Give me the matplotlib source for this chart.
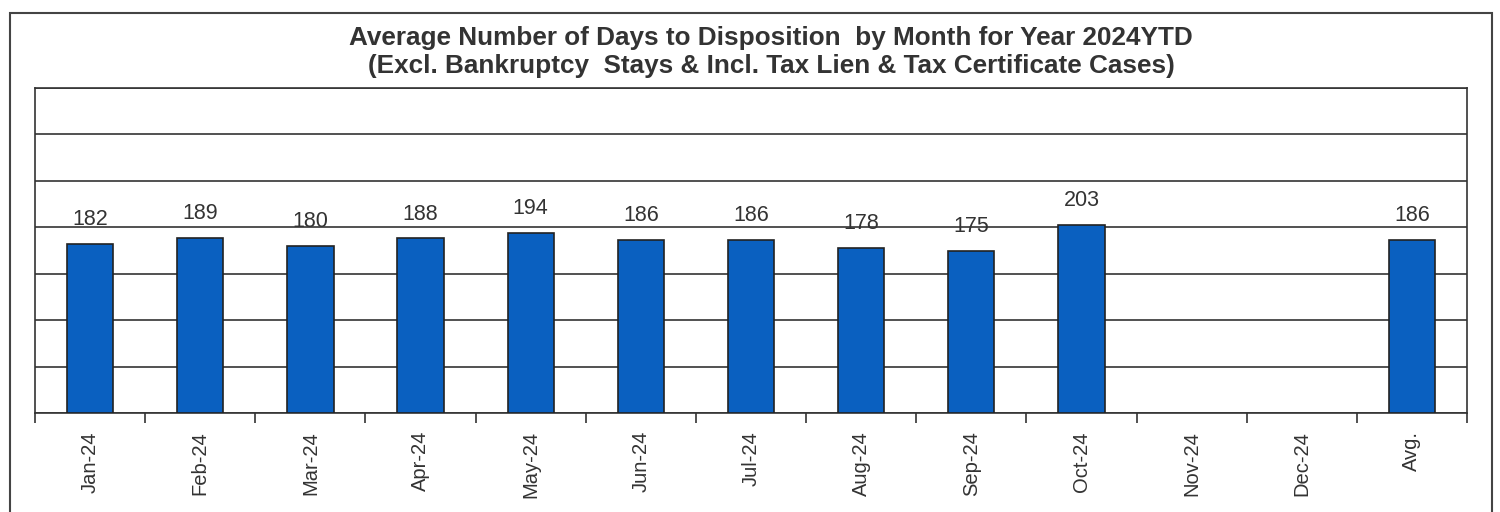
import matplotlib.pyplot as plt
from matplotlib.patches import Rectangle
import numpy as np

months = ['Jan-24', 'Feb-24', 'Mar-24', 'Apr-24', 'May-24', 'Jun-24', 'Jul-24',
          'Aug-24', 'Sep-24', 'Oct-24', 'Nov-24', 'Dec-24', 'Avg.']
days = [182, 189, 180, 188, 194, 186, 186, 178, 175, 203, None, None, 186]

plt.rcParams['font.family'] = ['Liberation Sans', 'DejaVu Sans']

fig = plt.figure(figsize=(15, 5.12), dpi=100)
ax = fig.add_axes([35 / 1500, 1 - 413 / 512, (1467 - 35) / 1500, (413 - 88) / 512])

# outer frame of the scanned chart
fig.patches.append(Rectangle((10 / 1500, -0.05), (1492 - 10) / 1500, 1.05 - 13 / 512,
                             transform=fig.transFigure, fill=False,
                             edgecolor='#444444', linewidth=1.5, clip_on=False))

x = np.arange(len(months))
for i, v in enumerate(days):
    if v is None:
        continue
    ax.bar(i, v, width=0.42, color='#0A60C0', edgecolor='#222222', linewidth=1.2, zorder=3)
    ax.annotate(str(v), (i, v), xytext=(0, 10), textcoords='offset points',
                ha='center', va='bottom', fontsize=15.5, color='#333333')

ax.set_xlim(-0.5, len(months) - 0.5)
ax.set_ylim(0, 350)
ax.set_yticks(np.arange(0, 351, 50))
ax.yaxis.grid(True, color='#333333', linewidth=1.2, zorder=0)
ax.tick_params(axis='y', left=False, labelleft=False)

ax.set_xticks(x)
ax.set_xticklabels(months, rotation=90, fontsize=14.5, color='#333333')
ax.set_xticks(np.arange(-0.5, len(months)), minor=True)
ax.tick_params(axis='x', which='major', length=0, pad=13)
ax.tick_params(axis='x', which='minor', length=7, width=1.2, color='#333333')

for s in ax.spines.values():
    s.set_color('#333333')
    s.set_linewidth(1.2)

fig.text(0.514, 1 - 38 / 512, 'Average Number of Days to Disposition  by Month for Year 2024YTD',
         ha='center', va='center', fontsize=18.8, fontweight='bold', color='#333333')
fig.text(0.514, 1 - 66 / 512, '(Excl. Bankruptcy  Stays & Incl. Tax Lien & Tax Certificate Cases)',
         ha='center', va='center', fontsize=18.8, fontweight='bold', color='#333333')

fig.savefig('out.png', dpi=100)
